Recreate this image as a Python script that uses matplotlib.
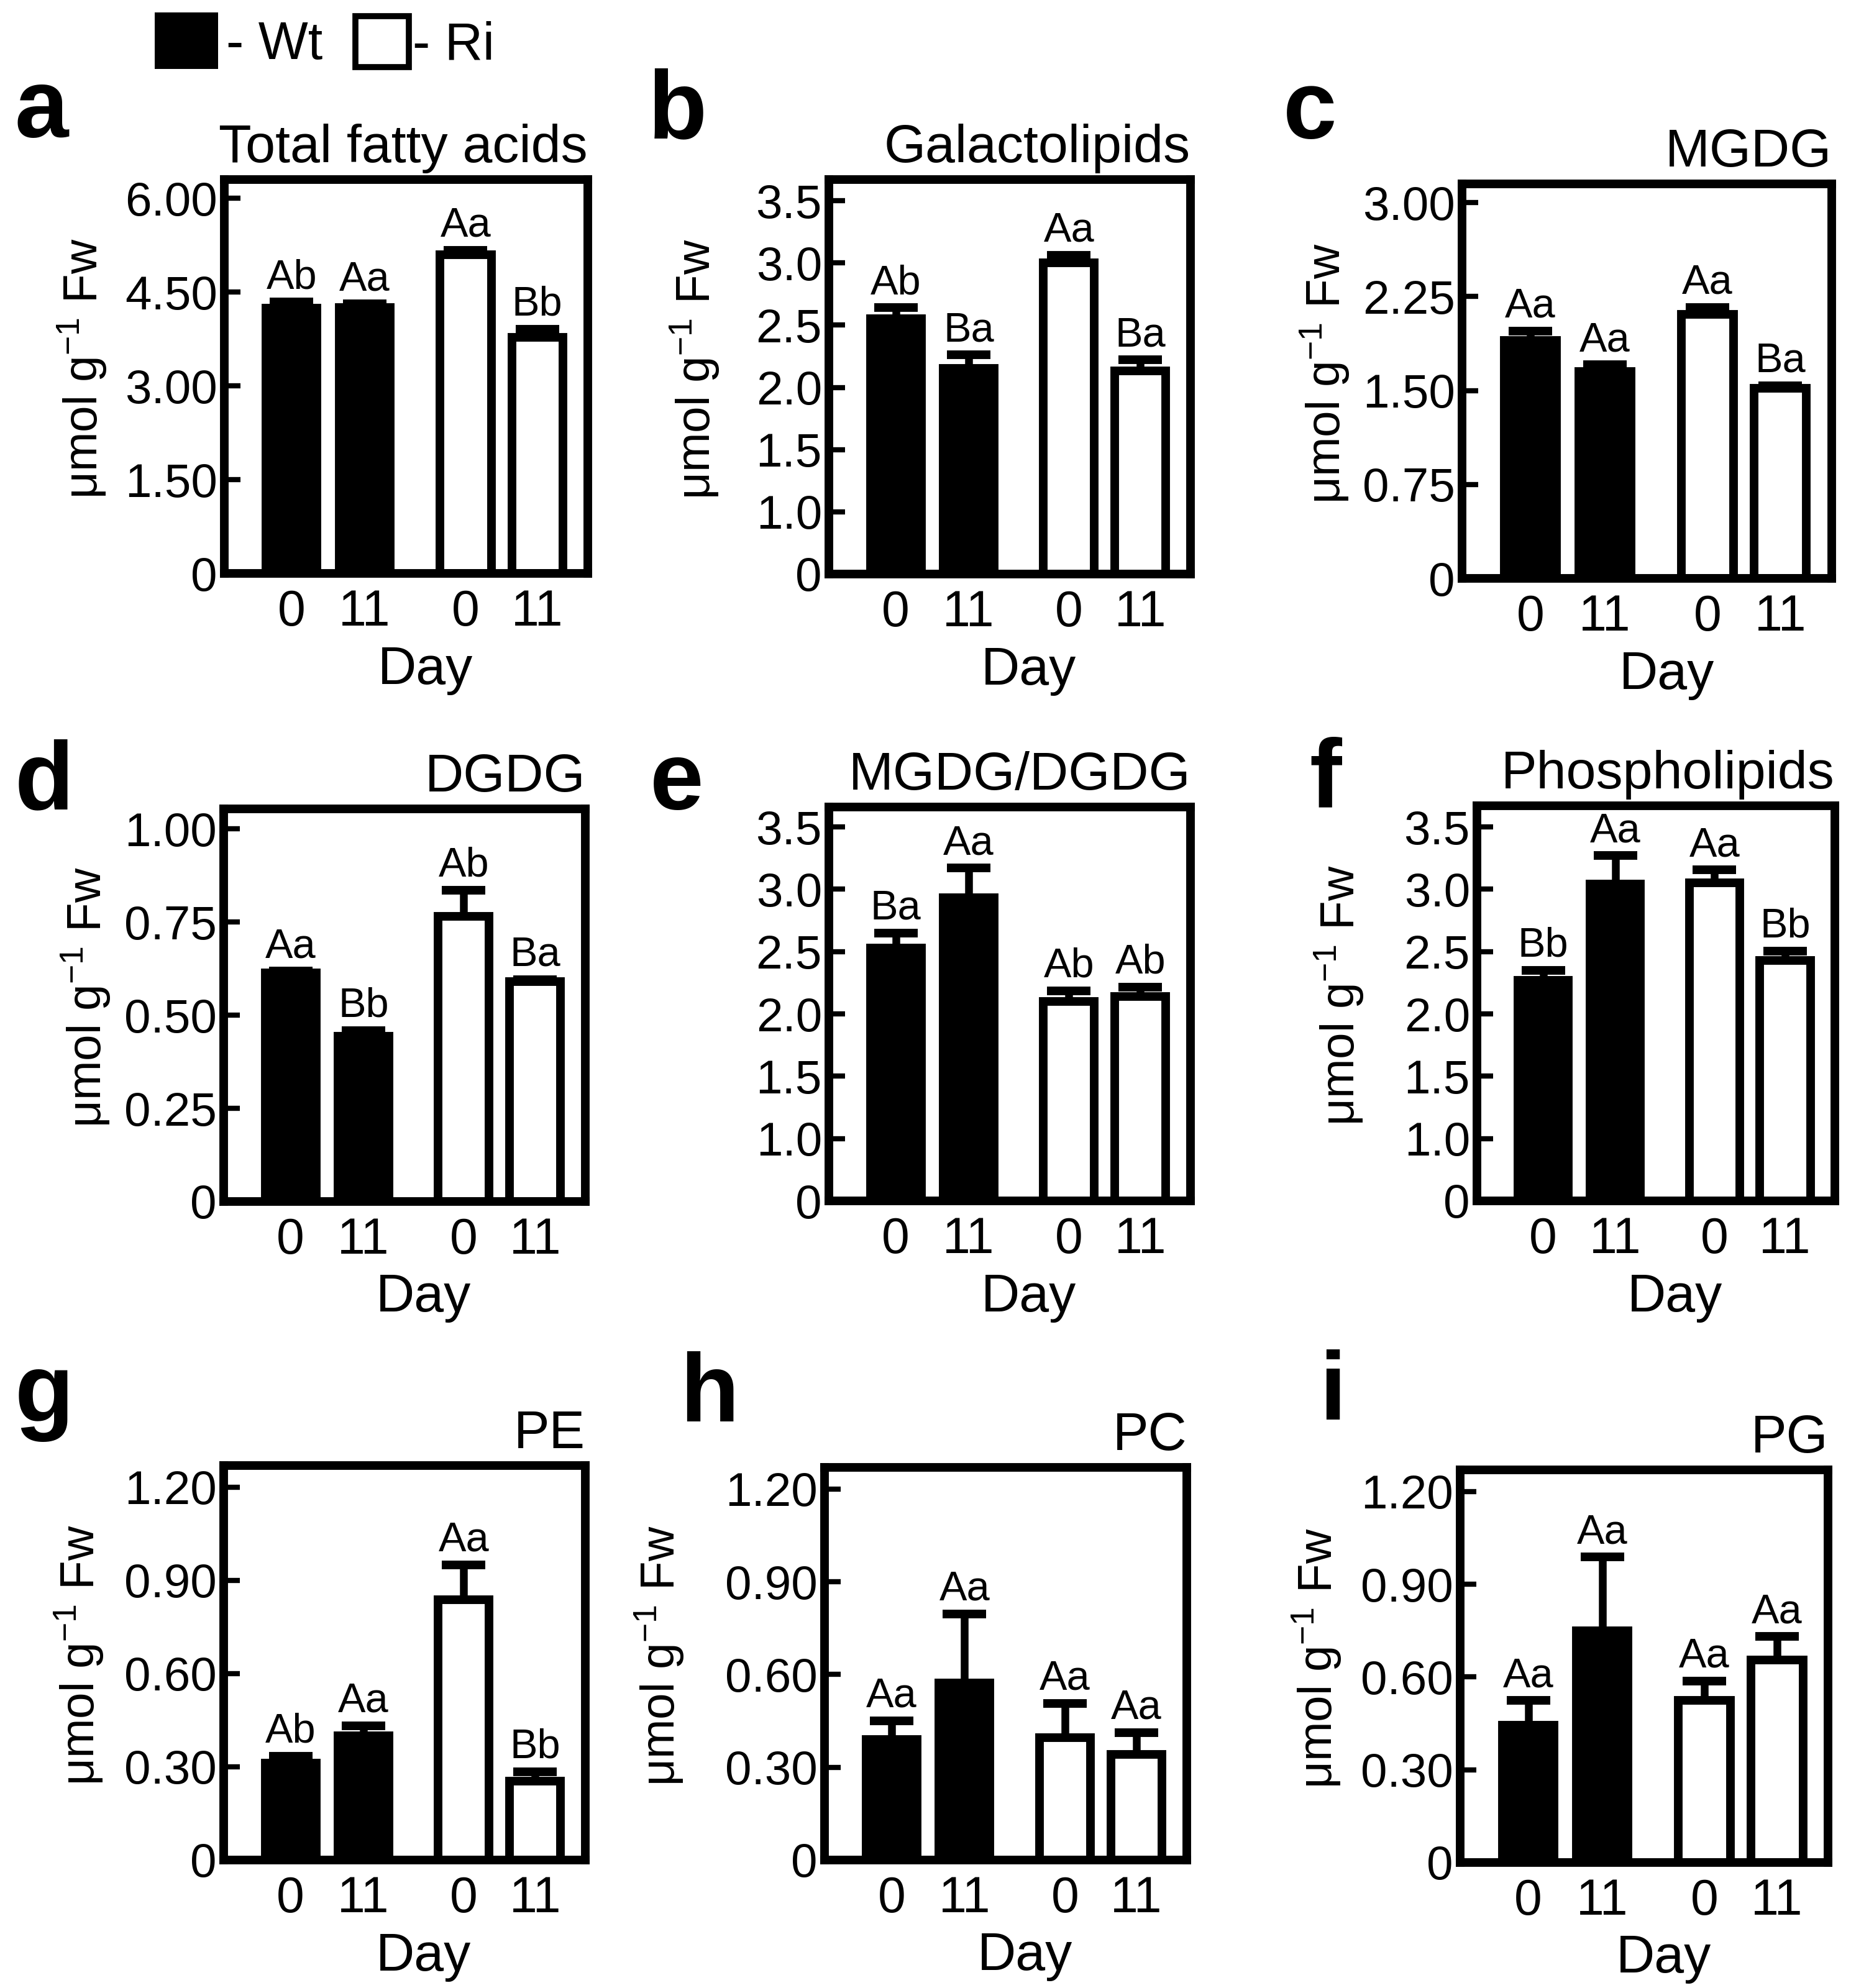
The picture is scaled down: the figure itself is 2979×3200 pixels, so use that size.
import matplotlib
matplotlib.use("Agg")
import numpy as np
import matplotlib.pyplot as plt
from matplotlib.patches import Rectangle

plt.rcParams['font.family'] = ['Liberation Sans', 'DejaVu Sans']
plt.rcParams['mathtext.fontset'] = 'custom'
plt.rcParams['mathtext.rm'] = 'Liberation Sans'
plt.rcParams['mathtext.it'] = 'Liberation Sans:italic'
plt.rcParams['mathtext.bf'] = 'Liberation Sans:bold'

# ---------------- data ----------------
letters = ["a", "b", "c", "d", "e", "f", "g", "h", "i"]
titles = ["Total fatty acids", "Galactolipids", "MGDG", "DGDG", "MGDG/DGDG",
          "Phospholipids", "PE", "PC", "PG"]
day_labels = ["0", "11", "0", "11"]
groups = ["Wt", "Wt", "Ri", "Ri"]

wt_day0 = [4.24, 2.55, 1.90, 0.614, 2.53, 2.27, 0.313, 0.390, 0.444]
wt_day11 = [4.25, 2.15, 1.65, 0.443, 2.93, 3.04, 0.401, 0.572, 0.750]
ri_day0 = [5.10, 3.00, 2.11, 0.766, 2.10, 3.05, 0.838, 0.396, 0.525]
ri_day11 = [3.78, 2.13, 1.52, 0.590, 2.14, 2.43, 0.255, 0.342, 0.655]

err_wt_day0 = [0.10, 0.09, 0.075, 0.004, 0.12, 0.08, 0.022, 0.060, 0.080]
err_wt_day11 = [0.06, 0.11, 0.055, 0.016, 0.24, 0.23, 0.031, 0.224, 0.238]
err_ri_day0 = [0.07, 0.06, 0.055, 0.070, 0.085, 0.105, 0.113, 0.110, 0.062]
err_ri_day11 = [0.13, 0.09, 0.020, 0.006, 0.075, 0.075, 0.030, 0.070, 0.076]

sig_letters = [
    ["Ab", "Aa", "Aa", "Bb"],
    ["Ab", "Ba", "Aa", "Ba"],
    ["Aa", "Aa", "Aa", "Ba"],
    ["Aa", "Bb", "Ab", "Ba"],
    ["Ba", "Aa", "Ab", "Ab"],
    ["Bb", "Aa", "Aa", "Bb"],
    ["Ab", "Aa", "Aa", "Bb"],
    ["Aa", "Aa", "Aa", "Aa"],
    ["Aa", "Aa", "Aa", "Aa"],
]

ticks_a = [0, 1.5, 3.0, 4.5, 6.0]
ticklabels_a = ["0", "1.50", "3.00", "4.50", "6.00"]
ticks_gal = [0.5, 1.0, 1.5, 2.0, 2.5, 3.0, 3.5]      # axis starts at 0.5, labelled "0"
ticklabels_gal = ["0", "1.0", "1.5", "2.0", "2.5", "3.0", "3.5"]
ticks_c = [0, 0.75, 1.5, 2.25, 3.0]
ticklabels_c = ["0", "0.75", "1.50", "2.25", "3.00"]
ticks_d = [0, 0.25, 0.5, 0.75, 1.0]
ticklabels_d = ["0", "0.25", "0.50", "0.75", "1.00"]
ticks_p = [0, 0.3, 0.6, 0.9, 1.2]
ticklabels_p = ["0", "0.30", "0.60", "0.90", "1.20"]

yticks = [ticks_a, ticks_gal, ticks_c, ticks_d, ticks_gal, ticks_gal, ticks_p, ticks_p, ticks_p]
yticklabels = [ticklabels_a, ticklabels_gal, ticklabels_c, ticklabels_d, ticklabels_gal,
               ticklabels_gal, ticklabels_p, ticklabels_p, ticklabels_p]
ylims = [(0, 6.30), (0.5, 3.67), (0, 3.15), (0, 1.054), (0.5, 3.66), (0.5, 3.67),
         (0, 1.27), (0, 1.27), (0, 1.27)]
has_ylabel = [True, True, True, True, False, True, True, True, True]

legend_labels = ["- Wt", "- Ri"]
group_colors = {"Wt": "black", "Ri": "white"}

# ---------------- layout (pixels) ----------------
W, H = 2979, 3200
fig = plt.figure(figsize=(W / 100, H / 100), dpi=100)

boxes = [
    (361, 289, 946, 923), (1334, 289, 1916, 924), (2353, 296, 2948, 931),
    (360, 1302, 942, 1934), (1334, 1299, 1916, 1933), (2377, 1297, 2953, 1933),
    (360, 2359, 942, 2994), (1327, 2362, 1910, 2994), (2350, 2366, 2942, 2998),
]
letter_pos = [(24, 220), (1043, 222), (2065, 222), (24, 1302), (1046, 1302),
              (2107, 1298), (24, 2288), (1094, 2288), (2123, 2285)]
ylabel_x = [-0.39, -0.37, -0.37, -0.38, 0, -0.385, -0.40, -0.455, -0.39]

xpos = [1.0, 2.0, 3.38, 4.36]
LW = 10

for k in range(9):
    x0, y0, x1, y1 = boxes[k]
    ax = fig.add_axes([x0 / W, 1 - y1 / H, (x1 - x0) / W, (y1 - y0) / H])
    vals = [wt_day0[k], wt_day11[k], ri_day0[k], ri_day11[k]]
    errs = [err_wt_day0[k], err_wt_day11[k], err_ri_day0[k], err_ri_day11[k]]
    colors = [group_colors[g] for g in groups]
    ax.bar(xpos, vals, width=0.70, color=colors, edgecolor="black", linewidth=LW, zorder=2)
    eb = ax.errorbar(xpos, vals, yerr=[[0] * 4, errs], fmt="none", ecolor="black",
                     elinewidth=9, capsize=25, capthick=10, zorder=3)
    # keep only the upper caps
    for cl in eb.lines[1]:
        if np.allclose(cl.get_ydata(), vals):
            cl.set_visible(False)
    for xp, v, e, s in zip(xpos, vals, errs, sig_letters[k]):
        ax.annotate(s, (xp, v + e), xytext=(0, 16), textcoords="offset points",
                    ha="center", va="baseline", fontsize=48)
    ax.set_xlim(0.08, 5.05)
    ax.set_ylim(*ylims[k])
    ax.set_yticks(yticks[k], yticklabels[k])
    ax.set_xticks(xpos, day_labels)
    for sp in ax.spines.values():
        sp.set_linewidth(LW)
        sp.set_zorder(4)
    ax.tick_params(axis="y", direction="in", length=19, width=6, labelsize=55, pad=8)
    ax.tick_params(axis="x", length=0, labelsize=58, pad=18)
    ax.set_title(titles[k], loc="right", fontsize=62, pad=20)
    ax.text(0.553, -0.28, "Day", transform=ax.transAxes, ha="center", va="baseline",
            fontsize=62)
    if has_ylabel[k]:
        ax.text(ylabel_x[k], 0.52, r"μmol g$^{-1}$ Fw", transform=ax.transAxes,
                rotation=90, ha="center", va="center", rotation_mode="anchor",
                fontsize=55)
    lx, ly = letter_pos[k]
    fig.text(lx / W, 1 - ly / H, letters[k], fontsize=112, fontweight="bold",
             ha="left", va="baseline")

# legend
fig.add_artist(Rectangle((249 / W, 1 - 111 / H), 102 / W, 91 / H,
                         transform=fig.transFigure, facecolor=group_colors["Wt"],
                         edgecolor="black", linewidth=0))
fig.text(364 / W, 1 - 95 / H, legend_labels[0], fontsize=61, ha="left", va="baseline")
fig.add_artist(Rectangle((572 / W, 1 - 108 / H), 86 / W, 82 / H,
                         transform=fig.transFigure, facecolor=group_colors["Ri"],
                         edgecolor="black", linewidth=7))
fig.text(664 / W, 1 - 95 / H, legend_labels[1], fontsize=61, ha="left", va="baseline")

fig.savefig("out.png", dpi=100, facecolor="white")
